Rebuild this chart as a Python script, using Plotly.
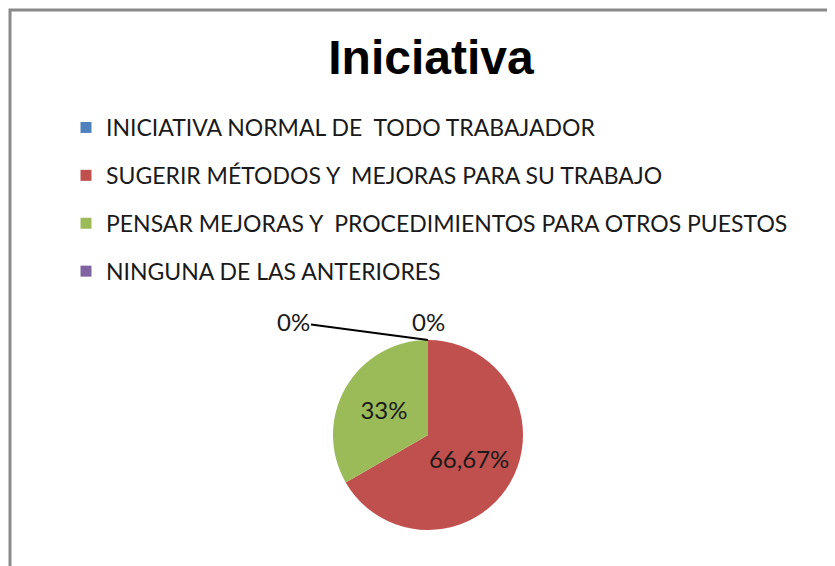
import plotly.graph_objects as go

categories = [
    "INICIATIVA NORMAL DE  TODO TRABAJADOR",
    "SUGERIR MÉTODOS Y  MEJORAS PARA SU TRABAJO",
    "PENSAR MEJORAS Y  PROCEDIMIENTOS PARA OTROS PUESTOS",
    "NINGUNA DE LAS ANTERIORES",
]
values = [0, 66.67, 33.33, 0]
value_labels = ["0%", "66,67%", "33%", "0%"]
colors = ["#4F81BD", "#C0504D", "#9BBB59", "#8064A2"]
title_text = "Iniciativa"

W, H = 835, 566
FONT = "Lato"

# pie geometry in figure pixels (page has 8px body margin)
cx, cy, d = 420, 427, 190

fig = go.Figure()

fig.add_trace(go.Pie(
    labels=categories,
    values=values,
    text=value_labels,
    textinfo="text",
    textposition="inside",
    insidetextorientation="horizontal",
    textfont=dict(family=FONT, size=24, color="#1a1a1a"),
    marker=dict(colors=colors, line=dict(width=0)),
    sort=False,
    direction="clockwise",
    rotation=0,
    showlegend=False,
    hoverinfo="label+percent",
    domain=dict(x=[(cx - 130) / W, (cx + 130) / W],
                y=[(H - cy - d / 2) / H, (H - cy + d / 2) / H]),
))

# legend entries (one group each so the vertical gap matches)
for i, (cat, col) in enumerate(zip(categories, colors)):
    fig.add_trace(go.Scatter(
        x=[None], y=[None], mode="markers", name=cat,
        marker=dict(symbol="square", size=11, color=col),
        legendgroup=f"g{i}", showlegend=True,
    ))

# zero-value labels
pie_top_y = (H - cy + d / 2) / H
fig.add_annotation(x=cx / W, y=pie_top_y, xref="paper", yref="paper",
                   text=value_labels[0], showarrow=True, arrowhead=0,
                   arrowwidth=2, arrowcolor="#000", ax=-135, ay=-18,
                   font=dict(family=FONT, size=24, color="#1a1a1a"))
fig.add_annotation(x=cx / W, y=(H - 314) / H, xref="paper", yref="paper",
                   text=value_labels[3], showarrow=False,
                   font=dict(family=FONT, size=24, color="#1a1a1a"))

# chart frame
fig.add_shape(type="rect", xref="paper", yref="paper",
              x0=2 / W, x1=1.05, y0=-0.05, y1=1 - 2 / H,
              line=dict(color="#8a8a8a", width=3), fillcolor="rgba(0,0,0,0)",
              layer="below")

fig.update_layout(
    width=W, height=H,
    margin=dict(l=0, r=0, t=0, b=0),
    paper_bgcolor="#ffffff",
    plot_bgcolor="rgba(0,0,0,0)",
    title=dict(text=f"<b>{title_text}</b>", x=423 / W, xanchor="center",
               y=1 - 49 / H, yanchor="middle",
               font=dict(family="Liberation Sans", size=48, color="#000")),
    xaxis=dict(visible=False),
    yaxis=dict(visible=False),
    legend=dict(x=58 / W, xanchor="left", y=1 - 98 / H, yanchor="top",
                traceorder="grouped", tracegroupgap=15,
                font=dict(family=FONT, size=23, color="#1a1a1a"),
                bgcolor="rgba(0,0,0,0)", itemclick=False),
    showlegend=True,
)

fig.write_html("out.html")
